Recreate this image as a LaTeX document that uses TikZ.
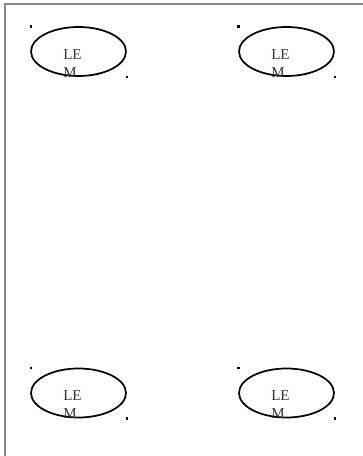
\documentclass[tikz,border=0pt]{standalone}
\usepackage{fontspec}
\setmainfont{Liberation Serif}
\usetikzlibrary{shapes.geometric}
\definecolor{framegray}{HTML}{888888}
\definecolor{txtgray}{HTML}{333333}
\tikzset{
  lem/.style={draw=black, line width=1.3pt, ellipse, minimum width=95\unitpx, minimum height=49\unitpx, inner sep=0pt},
  lemtext/.style={anchor=north west, inner sep=0pt, align=left, text=txtgray, font=\fontsize{11.25pt}{13.5pt}\selectfont},
  dotmark/.style={fill=black, minimum size=1.6pt, inner sep=0pt, rectangle}
}
\newlength{\unitpx}
\setlength{\unitpx}{0.75pt}
\begin{document}
\begin{tikzpicture}[x=0.75pt, y=-0.75pt]
\useasboundingbox (0,0) rectangle (363,456);
\clip (0,0) rectangle (363,456);
\fill[white] (0,0) rectangle (363,456);
\draw[framegray, line width=1.5pt] (4.5,470) -- (4.5,4.5) -- (380,4.5);
% top-left
\node[lem] (e1) at (78.5,51.5) {};
\node[lemtext] (t1) at (63,49) {LE\\M};
\node[dotmark] (a1) at (31,26.5) {};
\node[dotmark] (b1) at (127,77) {};
% top-right
\node[lem] (e2) at (286.5,51.5) {};
\node[lemtext] (t2) at (271,49) {LE\\M};
\node[dotmark] (a2) at (238.5,26.5) {};
\node[dotmark] (b2) at (335,77) {};
% bottom-left
\node[lem] (e3) at (78.5,393) {};
\node[lemtext] (t3) at (63,390.5) {LE\\M};
\node[dotmark] (a3) at (31,368) {};
\node[dotmark] (b3) at (127,418.5) {};
% bottom-right
\node[lem] (e4) at (286.5,393) {};
\node[lemtext] (t4) at (271,390.5) {LE\\M};
\node[dotmark] (a4) at (238.5,368) {};
\node[dotmark] (b4) at (335,418.5) {};
\end{tikzpicture}
\end{document}
